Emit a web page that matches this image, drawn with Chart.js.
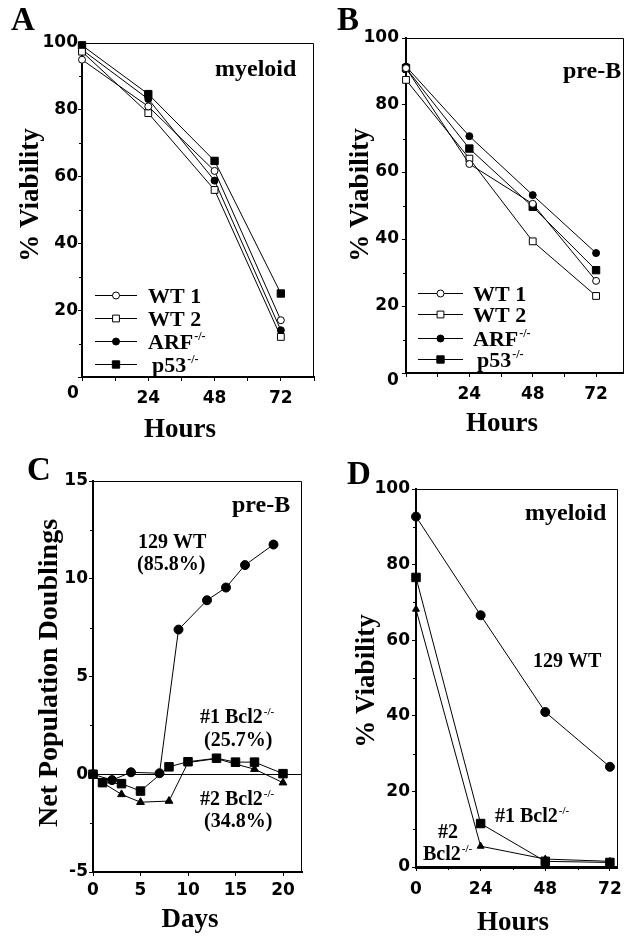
<!DOCTYPE html>
<html>
<head>
<meta charset="utf-8">
<script src="https://cdn.jsdelivr.net/npm/chart.js@4.4.0/dist/chart.umd.min.js"></script>
<style>
html, body { margin: 0; padding: 0; background: #fff; }
#page { position: relative; width: 630px; height: 938px; overflow: hidden; }
#page canvas { position: absolute; left: 0; top: 0; }
</style>
</head>
<body>
<div id="page">
  <canvas id="chartA" width="630" height="938"></canvas>
  <canvas id="chartB" width="630" height="938"></canvas>
  <canvas id="chartC" width="630" height="938"></canvas>
  <canvas id="chartD" width="630" height="938"></canvas>
</div>
<script>
// ---- data ----
const hours = [0, 24, 48, 72];
const seriesLabels = ['WT 1', 'WT 2', 'ARF', 'p53'];
const seriesSups = ['', '', '-/-', '-/-'];

// A: myeloid, % viability
const myeWT1 = [95, 81, 61.7, 17];
const myeWT2 = [97.4, 79, 56, 12];
const myeARF = [98, 83.2, 58.8, 14];
const myeP53 = [99.3, 84.7, 64.7, 25];

// B: pre-B, % viability
const preWT1 = [91, 62.4, 50.5, 27.5];
const preWT2 = [87.5, 64, 39.3, 23];
const preARF = [91.5, 70.7, 53.1, 35.8];
const preP53 = [91, 67, 49.6, 30.7];

// C: pre-B, net population doublings
const daysWT = [0, 2, 4, 7, 9, 12, 14, 16, 19];
const doubWT = [0, -0.3, 0.1, 0.05, 7.4, 8.9, 9.55, 10.7, 11.75];
const daysBcl = [0, 1, 3, 5, 8, 10, 13, 15, 17, 20];
const doubBcl1 = [0, -0.43, -0.48, -0.86, 0.38, 0.64, 0.82, 0.62, 0.62, 0.03];
const doubBcl2 = [0, -0.43, -1.03, -1.43, -1.37, 0.6, 0.8, 0.52, 0.26, -0.43];

// D: myeloid, % viability
const viaWT129 = [92.7, 66.6, 41, 26.5];
const viaBcl1 = [76.6, 11.5, 1.5, 1.2];
const viaBcl2 = [68.2, 5.5, 2.1, 1.5];

// ticks
const viabTicks = [0, 20, 40, 60, 80, 100];
const viabLabels = [20, 40, 60, 80, 100];
const viabMinor = [10, 30, 50, 70, 90];
const hourTicks = [0, 12, 24, 36, 48, 60, 72];
const hourLabels = [24, 48, 72];
const hourLabelsD = [0, 24, 48, 72];
const doubTicks = [-5, 0, 5, 10, 15];
const doubMinor = [-2.5, 2.5, 7.5, 12.5];
const dayTicks = [0, 5, 10, 15, 20];

const SERIF = '"Liberation Serif", "Times New Roman", serif';
const SANS = '"DejaVu Sans", sans-serif';
const tickFont = { family: SANS, size: 17, weight: 'bold' };

function pts(xs, ys) { return xs.map((x, i) => ({ x: x, y: ys[i] })); }

function ds(label, data, style, r, fill) {
    return {
        label: label, data: data, borderColor: '#000', borderWidth: 1, tension: 0,
        pointStyle: style, pointRadius: r, pointHoverRadius: r,
        pointBackgroundColor: fill, pointBorderColor: '#000', pointBorderWidth: 1,
        clip: false, fill: false
    };
}

function mark(ctx, style, r, fill, x, y) {
    ctx.beginPath();
    if (style === 'rect') { const s = r * Math.SQRT1_2; ctx.rect(x - s, y - s, 2 * s, 2 * s); }
    else ctx.arc(x, y, r, 0, Math.PI * 2);
    ctx.fillStyle = fill; ctx.fill();
    ctx.lineWidth = 1; ctx.strokeStyle = '#000'; ctx.stroke();
}

function text(ctx, t) {
    ctx.save();
    ctx.fillStyle = '#000';
    ctx.font = 'bold ' + t.size + 'px ' + (t.sans ? SANS : SERIF);
    ctx.textBaseline = t.base || 'alphabetic';
    ctx.translate(t.x, t.y);
    if (t.rot) ctx.rotate(t.rot * Math.PI / 180);
    const w = ctx.measureText(t.s).width;
    let supW = 0;
    if (t.sup) {
        ctx.font = 'bold ' + Math.round(t.size * 0.55) + 'px ' + SERIF;
        supW = ctx.measureText(t.sup).width;
        ctx.font = 'bold ' + t.size + 'px ' + (t.sans ? SANS : SERIF);
    }
    let x0 = 0;
    if (t.align === 'center') x0 = -(w + supW) / 2;
    ctx.textAlign = 'left';
    ctx.fillText(t.s, x0, 0);
    if (t.sup) {
        ctx.font = 'bold ' + Math.round(t.size * 0.55) + 'px ' + SERIF;
        ctx.fillText(t.sup, x0 + w + 1, -t.size * 0.4);
    }
    ctx.restore();
}

// frame, minor ticks, texts and in-plot legend
const decor = {
    id: 'decor',
    afterDraw(chart, args, o) {
        const ctx = chart.ctx, a = chart.chartArea;
        const xs = chart.scales.x, ys = chart.scales.y;
        ctx.save();
        ctx.strokeStyle = '#000';
        ctx.lineWidth = 1;
        ctx.beginPath();
        ctx.moveTo(Math.round(a.left), Math.round(a.top) + 0.5);
        ctx.lineTo(Math.round(a.right) - 0.5, Math.round(a.top) + 0.5);
        ctx.lineTo(Math.round(a.right) - 0.5, Math.round(a.bottom));
        ctx.stroke();
        ctx.beginPath();
        (o.minorY || []).forEach(v => {
            const py = Math.round(ys.getPixelForValue(v)) + 0.5;
            ctx.moveTo(a.left - 3, py); ctx.lineTo(a.left, py);
        });
        (o.minorX || []).forEach(v => {
            const px = Math.round(xs.getPixelForValue(v)) + 0.5;
            ctx.moveTo(px, a.bottom); ctx.lineTo(px, a.bottom + 3);
        });
        ctx.stroke();
        (o.texts || []).forEach(t => text(ctx, t));
        if (o.legend) {
            const L = o.legend;
            chart.data.datasets.forEach((d, i) => {
                const y = L.rows[i];
                ctx.beginPath();
                ctx.moveTo(L.x0, y + 0.5); ctx.lineTo(L.x1, y + 0.5);
                ctx.lineWidth = 1; ctx.strokeStyle = '#000'; ctx.stroke();
                mark(ctx, d.pointStyle, d.pointRadius, d.pointBackgroundColor, (L.x0 + L.x1) / 2, y + 0.5);
                text(ctx, { s: seriesLabels[i], sup: seriesSups[i], x: L.tx + (i === 3 ? 4 : 0), y: y + 8, size: 22 });
            });
        }
        ctx.restore();
    }
};

function axis(cfg) {
    return {
        type: 'linear', min: cfg.min, max: cfg.max,
        afterBuildTicks: ax => { ax.ticks = cfg.ticks.map(v => ({ value: v })); },
        afterFit: s => { if (cfg.w) s.width = cfg.w; if (cfg.h) s.height = cfg.h; },
        ticks: {
            autoSkip: false, maxRotation: 0, font: tickFont, color: '#000', padding: cfg.pad,
            callback: v => cfg.labels.includes(v) ? String(v) : ''
        },
        grid: {
            display: true, drawOnChartArea: !!cfg.zero, drawTicks: true, tickLength: 4,
            tickColor: '#000', lineWidth: 1,
            color: c => (cfg.zero && c.tick && c.tick.value === 0) ? '#000' : 'rgba(0,0,0,0)'
        },
        border: { display: true, color: '#000', width: cfg.bw || 2 }
    };
}

function makeChart(id, datasets, pad, scales, decorOpts) {
    return new Chart(document.getElementById(id), {
        type: 'line',
        data: { datasets: datasets },
        options: {
            responsive: false, animation: false, events: [],
            layout: { padding: pad },
            scales: scales,
            plugins: { legend: { display: false }, tooltip: { enabled: false }, decor: decorOpts }
        },
        plugins: [decor]
    });
}

// A
makeChart('chartA', [
    ds('WT 1', pts(hours, myeWT1), 'circle', 3.5, '#fff'),
    ds('WT 2', pts(hours, myeWT2), 'rect', 4.8, '#fff'),
    ds('ARF-/-', pts(hours, myeARF), 'circle', 3.5, '#000'),
    ds('p53-/-', pts(hours, myeP53), 'rect', 5.2, '#000')
], { left: 38, top: 43, right: 316, bottom: 521 }, {
    x: axis({ min: 0, max: 84, ticks: hourTicks.concat([84]), labels: hourLabels, h: 40, pad: 7 }),
    y: axis({ min: 0, max: 100, ticks: viabTicks, labels: viabLabels, w: 44, pad: 0 })
}, {
    minorY: viabMinor,
    texts: [
        { s: 'A', x: 11, y: 30, size: 33 },
        { s: 'myeloid', x: 215, y: 76, size: 24 },
        { s: '% Viability', x: 31, y: 195, size: 27, rot: -90, align: 'center', base: 'middle' },
        { s: 'Hours', x: 180, y: 437, size: 27, align: 'center' },
        { s: '0', x: 73, y: 394, size: 17, sans: true, align: 'center', base: 'middle' }
    ],
    legend: { x0: 95, x1: 137, tx: 148, rows: [295, 318, 341, 364] }
});

// B
makeChart('chartB', [
    ds('WT 1', pts(hours, preWT1), 'circle', 3.5, '#fff'),
    ds('WT 2', pts(hours, preWT2), 'rect', 4.8, '#fff'),
    ds('ARF-/-', pts(hours, preARF), 'circle', 3.5, '#000'),
    ds('p53-/-', pts(hours, preP53), 'rect', 5.2, '#000')
], { left: 362, top: 38, right: 0, bottom: 525 }, {
    x: axis({ min: 0, max: 82.5, ticks: hourTicks, labels: hourLabels, h: 40, pad: 7 }),
    y: axis({ min: 0, max: 100, ticks: viabTicks, labels: viabLabels, w: 44, pad: 3 })
}, {
    minorY: viabMinor,
    texts: [
        { s: 'B', x: 337, y: 30, size: 33 },
        { s: 'pre-B', x: 563, y: 78, size: 24 },
        { s: '% Viability', x: 361, y: 195, size: 27, rot: -90, align: 'center', base: 'middle' },
        { s: 'Hours', x: 502, y: 431, size: 27, align: 'center' },
        { s: '0', x: 393, y: 381, size: 17, sans: true, align: 'center', base: 'middle' }
    ],
    legend: { x0: 418, x1: 463, tx: 473, rows: [293, 314, 338, 359] }
});

// C
makeChart('chartC', [
    ds('129 WT', pts(daysWT, doubWT), 'circle', 4.5, '#000'),
    ds('#1 Bcl2-/-', pts(daysBcl, doubBcl1), 'rect', 6, '#000'),
    ds('#2 Bcl2-/-', pts(daysBcl, doubBcl2), 'triangle', 4.5, '#000')
], { left: 49, top: 481, right: 328, bottom: 26 }, {
    x: axis({ min: 0, max: 22, ticks: dayTicks, labels: dayTicks, h: 40, pad: 4 }),
    y: axis({ min: -5, max: 15, ticks: doubTicks, labels: doubTicks, w: 44, pad: 1, zero: true })
}, {
    minorY: doubMinor,
    texts: [
        { s: 'C', x: 27, y: 480, size: 33 },
        { s: 'pre-B', x: 232, y: 512, size: 24 },
        { s: '129 WT', x: 138, y: 548, size: 20 },
        { s: '(85.8%)', x: 137, y: 570, size: 20 },
        { s: '#1 Bcl2', sup: '-/-', x: 200, y: 723, size: 20 },
        { s: '(25.7%)', x: 204, y: 746, size: 20 },
        { s: '#2 Bcl2', sup: '-/-', x: 200, y: 805, size: 20 },
        { s: '(34.8%)', x: 204, y: 827, size: 20 },
        { s: 'Net Population Doublings', x: 50, y: 673, size: 28, rot: -90, align: 'center', base: 'middle' },
        { s: 'Days', x: 190, y: 927, size: 27, align: 'center' }
    ]
});

// D
makeChart('chartD', [
    ds('129 WT', pts(hours, viaWT129), 'circle', 4.5, '#000'),
    ds('#1 Bcl2-/-', pts(hours, viaBcl1), 'rect', 6, '#000'),
    ds('#2 Bcl2-/-', pts(hours, viaBcl2), 'triangle', 4, '#000')
], { left: 372, top: 489, right: 7, bottom: 31 }, {
    x: axis({ min: 0, max: 75, ticks: hours, labels: hourLabelsD, h: 40, pad: 8, bw: 3 }),
    y: axis({ min: 0, max: 100, ticks: viabTicks, labels: viabTicks, w: 44, pad: 2 })
}, {
    minorY: viabMinor,
    minorX: [12, 36, 60],
    texts: [
        { s: 'D', x: 347, y: 484, size: 33 },
        { s: 'myeloid', x: 525, y: 520, size: 24 },
        { s: '129 WT', x: 533, y: 667, size: 20 },
        { s: '#1 Bcl2', sup: '-/-', x: 495, y: 822, size: 20 },
        { s: '#2', x: 438, y: 838, size: 20 },
        { s: 'Bcl2', sup: '-/-', x: 423, y: 860, size: 20 },
        { s: '% Viability', x: 367, y: 681, size: 27, rot: -90, align: 'center', base: 'middle' },
        { s: 'Hours', x: 513, y: 930, size: 27, align: 'center' }
    ]
});
</script>
</body>
</html>
